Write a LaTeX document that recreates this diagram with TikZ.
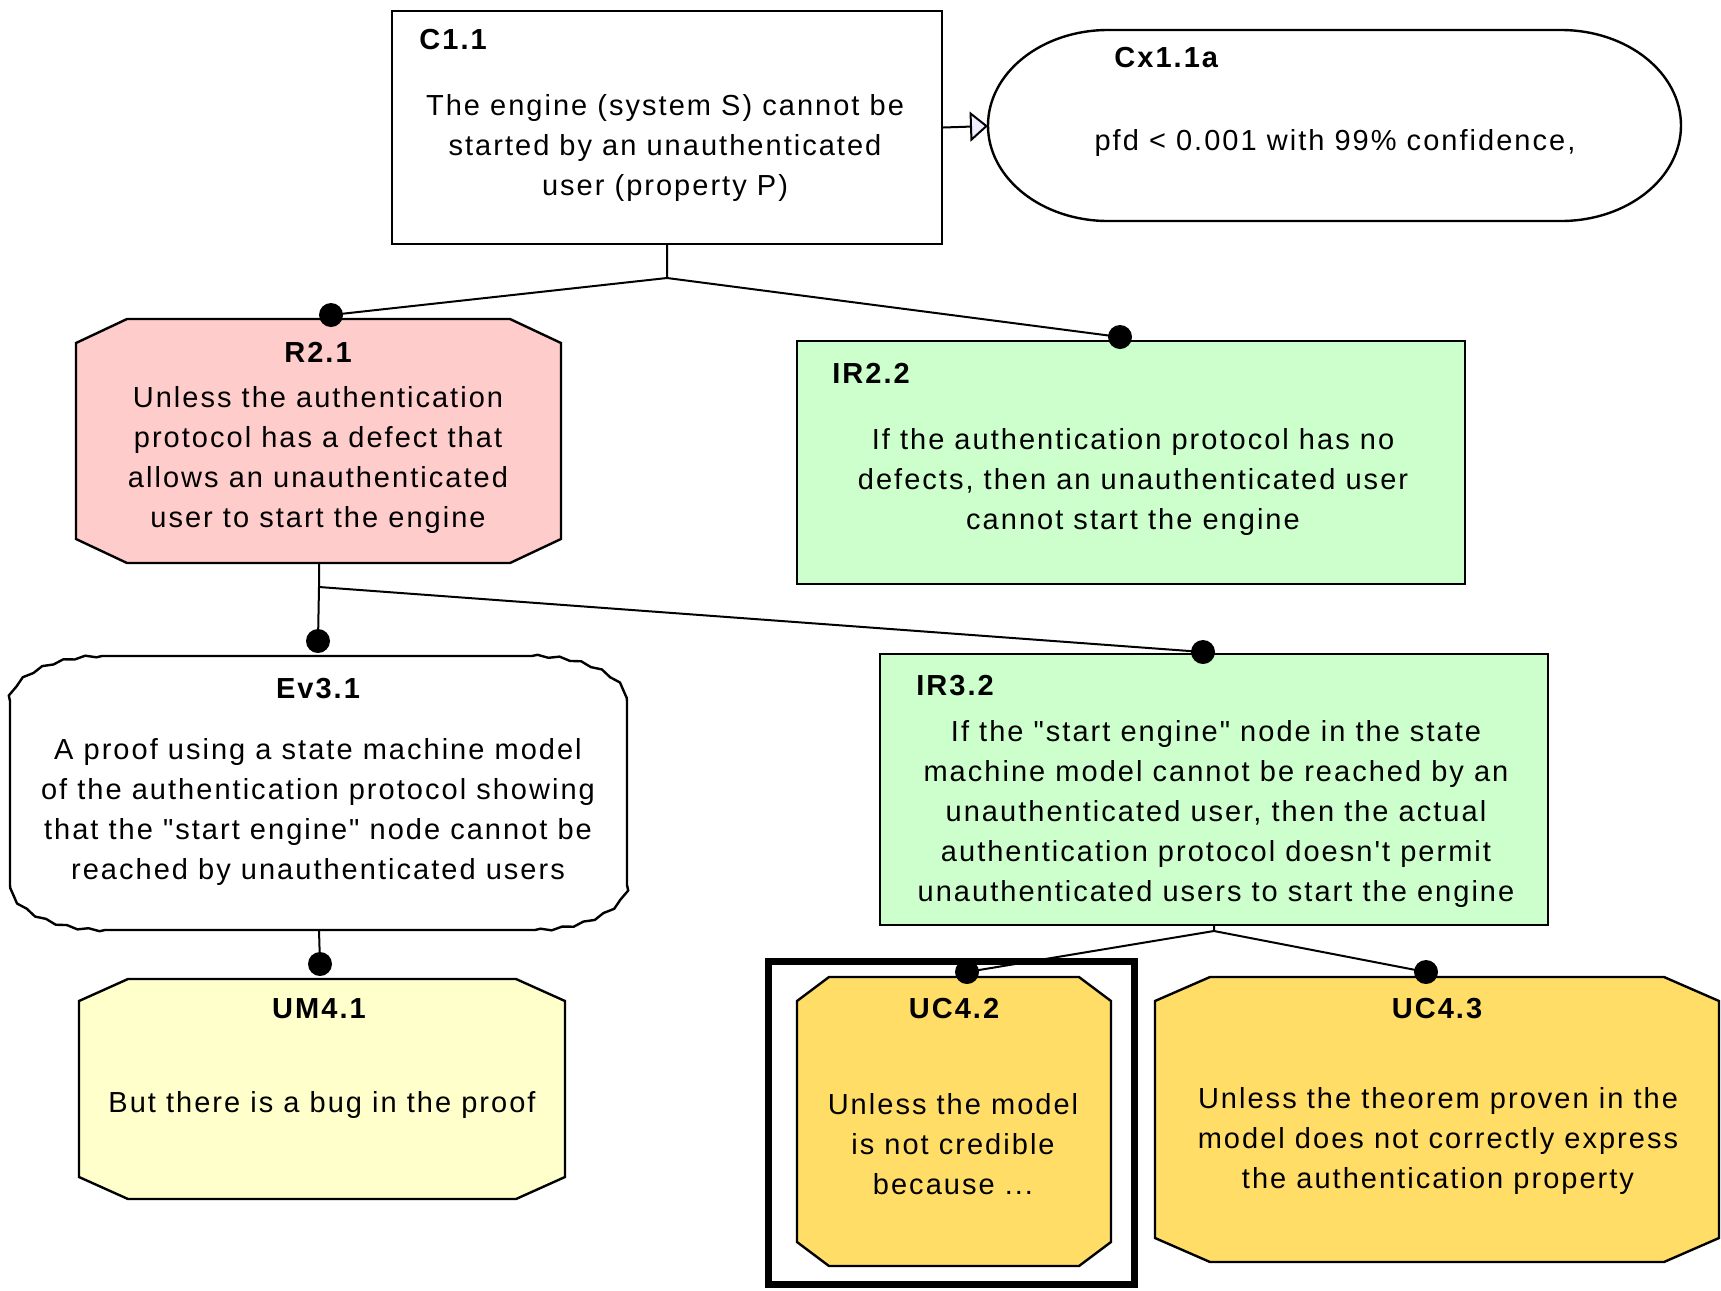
\documentclass[tikz,border=0pt]{standalone}
\usepackage{fontspec}
\setmainfont{Liberation Sans}[LetterSpace=7, Ligatures=TeXOff]
\usetikzlibrary{arrows.meta,decorations.pathmorphing}

\definecolor{rebutfill}{HTML}{FFCCCC}
\definecolor{inferfill}{HTML}{CCFFCC}
\definecolor{defeatfill}{HTML}{FFFFCC}
\definecolor{undercutfill}{HTML}{FFDD66}
\definecolor{tipfill}{HTML}{EEEEFF}

\tikzset{
  boxline/.style={draw=black, line width=1.2pt},
  rectbox/.style={boxline, rectangle, inner sep=0pt},
  link/.style={line width=1pt},
  dot/.style={circle, fill=black, inner sep=0pt, minimum size=12pt},
  idtext/.style={font=\fontsize{14.5}{20}\selectfont\bfseries, inner sep=0pt},
  bodytext/.style={align=center},
  jag/.style={decoration={zigzag, segment length=11pt, amplitude=0.6pt}},
}

\begin{document}
\begin{tikzpicture}[x=0.5pt, y=-0.5pt, font=\fontsize{14.5}{20}\selectfont]
  \useasboundingbox (0,0) rectangle (1721,1291);

  % claim and its context
  \node[rectbox, fill=white, minimum width=275pt, minimum height=116.5pt] (C11) at (667,127.5) {};
  \node[idtext, anchor=west] (C11-id) at (419,40) {C1.1};
  \node[bodytext] (C11-txt) at (665,148) {The engine (system S) cannot be\\started by an unauthenticated\\user (property P)};

  \draw[boxline, fill=white] (1108,30) -- (1561,30)
    arc[start angle=-90, end angle=90, x radius=120, y radius=95.5]
    -- (1108,221)
    arc[start angle=90, end angle=270, x radius=120, y radius=95.5] -- cycle;
  \coordinate (Cxw) at (988,126);
  \node[idtext, anchor=west] (Cx-id) at (1114,58) {Cx1.1a};
  \node[bodytext] (Cx-txt) at (1335,143) {pfd < 0.001 with 99\% confidence,};

  % rebutter R2.1
  \draw[boxline, fill=rebutfill] (127,319) -- (510,319) -- (561,343) -- (561,539)
    -- (510,563) -- (127,563) -- (76,539) -- (76,343) -- cycle;
  \node[idtext] (R21-id) at (318,352) {R2.1};
  \node[bodytext] (R21-txt) at (318,459.5) {Unless the authentication\\protocol has a defect that\\allows an unauthenticated\\user to start the engine};
  \coordinate (R21s) at (319,563);

  % inference rule IR2.2
  \node[rectbox, fill=inferfill, minimum width=334pt, minimum height=121.5pt] (IR22) at (1131,462.5) {};
  \node[idtext, anchor=west] (IR22-id) at (832,373) {IR2.2};
  \node[bodytext] (IR22-txt) at (1133,482) {If the authentication protocol has no\\defects, then an unauthenticated user\\cannot start the engine};

  % evidence Ev3.1
  \draw[boxline, fill=white] (105,656) -- (532,656)
    decorate[jag]{ .. controls (590,656) and (627,680) .. (627,701)}
    -- (627,885)
    decorate[jag]{ .. controls (627,906) and (590,930) .. (532,930)}
    -- (105,930)
    decorate[jag]{ .. controls (47,930) and (10,906) .. (10,885)}
    -- (10,701)
    decorate[jag]{ .. controls (10,680) and (47,656) .. (105,656)}
    -- cycle;
  \node[idtext] (Ev31-id) at (318,689) {Ev3.1};
  \node[bodytext] (Ev31-txt) at (318,812) {A proof using a state machine model\\of the authentication protocol showing\\that the "start engine" node cannot be\\reached by unauthenticated users};
  \coordinate (Ev31s) at (319,930);

  % inference rule IR3.2
  \node[rectbox, fill=inferfill, minimum width=334pt, minimum height=135.5pt] (IR32) at (1214,789.5) {};
  \node[idtext, anchor=west] (IR32-id) at (916,686) {IR3.2};
  \node[bodytext] (IR32-txt) at (1216,813.5) {If the "start engine" node in the state\\machine model cannot be reached by an\\unauthenticated user, then the actual\\authentication protocol doesn't permit\\unauthenticated users to start the engine};

  % defeater UM4.1
  \draw[boxline, fill=defeatfill] (128,979) -- (516,979) -- (565,1001) -- (565,1177)
    -- (516,1199) -- (128,1199) -- (79,1177) -- (79,1001) -- cycle;
  \node[idtext] (UM41-id) at (319,1009) {UM4.1};
  \node[bodytext] (UM41-txt) at (322,1105) {But there is a bug in the proof};

  % undercutter UC4.2 (framed)
  \node[rectbox, line width=3.5pt, minimum width=183pt, minimum height=161.5pt] (UC42-frame) at (951.5,1123) {};
  \draw[boxline, fill=undercutfill] (829,977) -- (1079,977) -- (1111,1001) -- (1111,1242)
    -- (1079,1266) -- (829,1266) -- (797,1242) -- (797,1001) -- cycle;
  \node[idtext] (UC42-id) at (954,1009) {UC4.2};
  \node[bodytext] (UC42-txt) at (953,1144) {Unless the model\\is not credible\\because ...};

  % undercutter UC4.3
  \draw[boxline, fill=undercutfill] (1210,977) -- (1664,977) -- (1719,1001) -- (1719,1238)
    -- (1664,1262) -- (1210,1262) -- (1155,1238) -- (1155,1001) -- cycle;
  \node[idtext] (UC43-id) at (1437,1009) {UC4.3};
  \node[bodytext] (UC43-txt) at (1438,1141) {Unless the theorem proven in the\\model does not correctly express\\the authentication property};

  % connectors
  \draw[link, -{Triangle[length=9pt, width=15pt, fill=tipfill]}] (C11.east) -- (Cxw);

  \coordinate (j1) at (667,278);
  \coordinate (j2) at (319,587);
  \coordinate (j3) at (1214,931);
  \node[dot] (R21dot) at (331,315) {};
  \node[dot] (IR22dot) at (1120,337) {};
  \node[dot] (Ev31dot) at (318,641) {};
  \node[dot] (IR32dot) at (1203,652) {};
  \node[dot] (UM41dot) at (320,964) {};
  \node[dot] (UC42dot) at (967,972) {};
  \node[dot] (UC43dot) at (1426,972) {};

  \draw[link] (C11.south) -- (j1) -- (R21dot.center);
  \draw[link] (j1) -- (IR22dot.center);
  \draw[link] (R21s) -- (j2) -- (Ev31dot.center);
  \draw[link] (j2) -- (IR32dot.center);
  \draw[link] (Ev31s) -- (UM41dot.center);
  \draw[link] (IR32.south) -- (j3) -- (UC42dot.center);
  \draw[link] (j3) -- (UC43dot.center);
\end{tikzpicture}
\end{document}
